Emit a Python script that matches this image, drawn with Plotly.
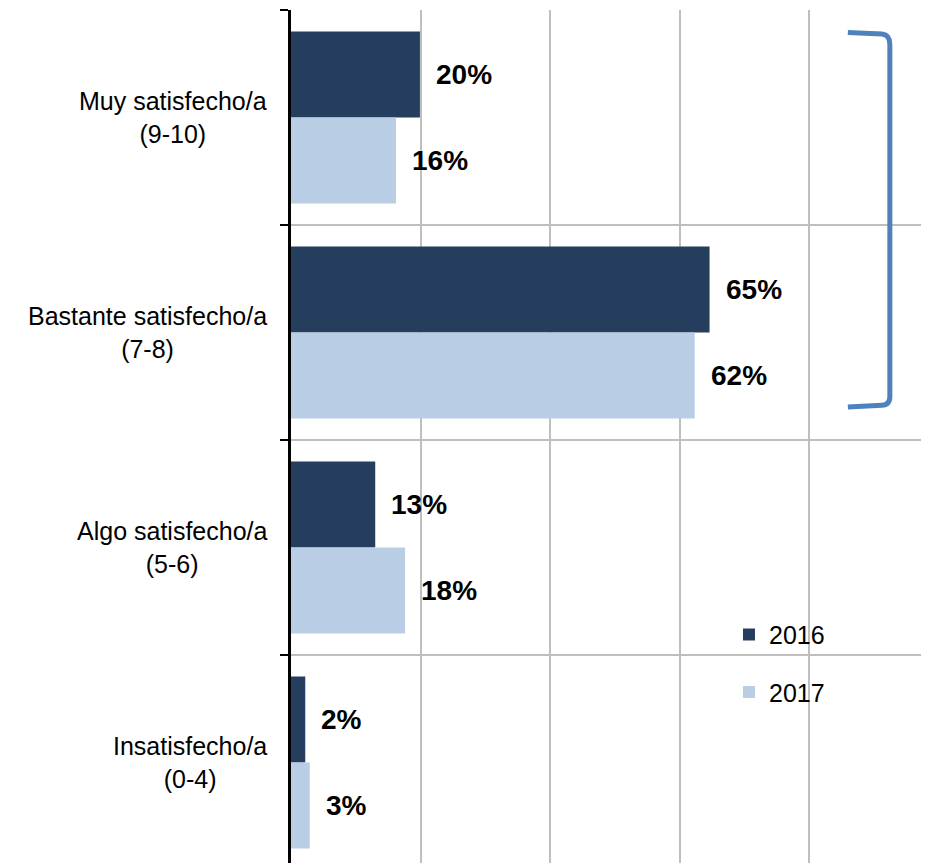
import plotly.graph_objects as go

categories = ["Muy satisfecho/a<br>(9-10)", "Bastante satisfecho/a<br>(7-8)",
              "Algo satisfecho/a<br>(5-6)", "Insatisfecho/a<br>(0-4)"]
values_2016 = [19.9, 64.6, 13.0, 2.2]
values_2017 = [16.2, 62.3, 17.6, 2.9]
labels_2016 = ["20%", "65%", "13%", "2%"]
labels_2017 = ["16%", "62%", "18%", "3%"]

c2016 = "#263E5E"
c2017 = "#B9CDE5"
font = "Liberation Sans, Arial, sans-serif"

fig = go.Figure()
fig.add_trace(go.Bar(y=categories, x=values_2016, orientation="h", name="2016",
                     marker=dict(color=c2016, line=dict(width=0)), legendgroup="a"))
fig.add_trace(go.Bar(y=categories, x=values_2017, orientation="h", name="2017",
                     marker=dict(color=c2017, line=dict(width=0)), legendgroup="b"))

ann = []
for cat, v, t in zip(categories, values_2016, labels_2016):
    ann.append(dict(x=v, y=cat, xref="x", yref="y", text="<b>%s</b>" % t,
                    showarrow=False, xanchor="left", xshift=14, yshift=43,
                    font=dict(size=28, color="black", family=font)))
for cat, v, t in zip(categories, values_2017, labels_2017):
    ann.append(dict(x=v, y=cat, xref="x", yref="y", text="<b>%s</b>" % t,
                    showarrow=False, xanchor="left", xshift=14, yshift=-43,
                    font=dict(size=28, color="black", family=font)))
# category labels, centred lines
for cat in categories:
    ann.append(dict(x=0, y=cat, xref="paper", yref="y", text=cat, align="center",
                    showarrow=False, xanchor="right", xshift=-22,
                    font=dict(size=25, color="black", family=font)))

# bracket over the top two categories
bracket = ("M 0.862,0.974 L 0.915,0.972 Q 0.927,0.971 0.927,0.960 "
           "L 0.927,0.551 Q 0.927,0.541 0.915,0.541 L 0.862,0.539")

fig.update_layout(
    width=929, height=863,
    margin=dict(l=283, r=0, t=2, b=0),
    paper_bgcolor="white", plot_bgcolor="white",
    barmode="group", bargap=0.2, bargroupgap=0,
    font=dict(family=font, color="black"),
    showlegend=True,
    legend=dict(x=0.678, y=0.301, xanchor="left", yanchor="top",
                bgcolor="rgba(0,0,0,0)", font=dict(size=25, family=font),
                tracegroupgap=22),
    annotations=ann,
    shapes=[dict(type="path", path=bracket, xref="paper", yref="paper",
                 line=dict(color="#4F81BD", width=5))],
    xaxis=dict(range=[0, 99.7], dtick=20, showticklabels=False, ticks="",
               showgrid=True, gridcolor="#BFBFBF", gridwidth=2,
               zeroline=False, showline=False),
    yaxis=dict(range=[3.505, -0.5], showticklabels=False, tickson="boundaries",
               ticks="outside", ticklen=8, tickwidth=2, tickcolor="black",
               showgrid=True, gridcolor="#BFBFBF", gridwidth=2,
               showline=True, linecolor="black", linewidth=3, zeroline=False),
)

fig.write_html("out.html")
